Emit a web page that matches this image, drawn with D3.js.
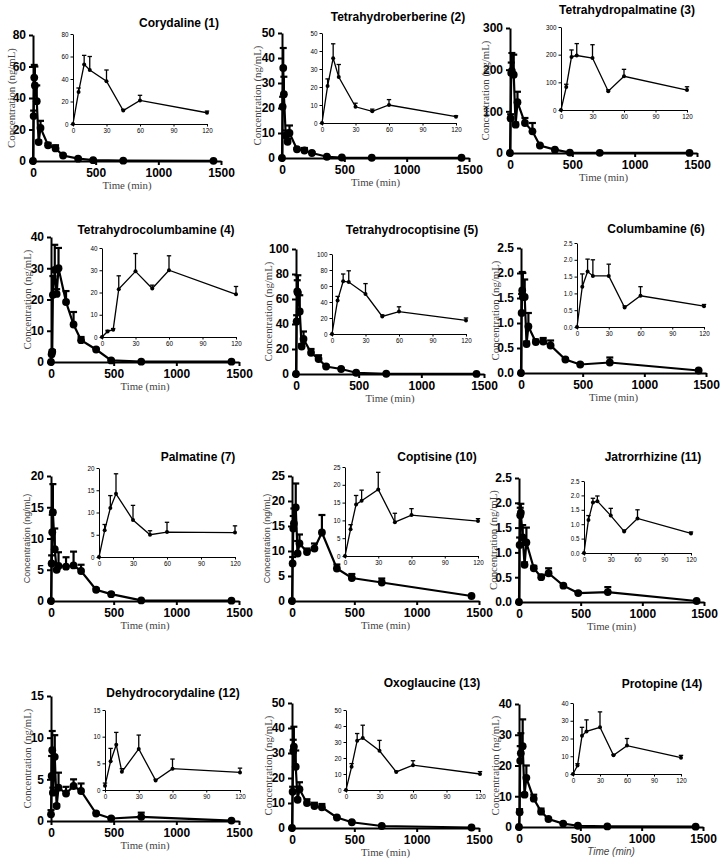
<!DOCTYPE html>
<html>
<head>
<meta charset="utf-8">
<script src="https://cdn.jsdelivr.net/npm/d3@7"></script>
<style>
  body { margin: 0; background: #fff; }
</style>
</head>
<body>
<svg id="chart" width="720" height="862"></svg>
<script>
// sampling times (min); inset shows the first 8 (0-120 min)
const times = [0, 5, 10, 15, 30, 45, 60, 120, 180, 240, 360, 480, 720, 1440];
const xTicks = [0, 500, 1000, 1500];
const insetXTicks = [0, 30, 60, 90, 120];

const corydalineMean = [0, 28.5, 53, 48, 38, 12, 21, 10, 8, 3.5, 1.5, 0.5, 0.2, 0.1];
const corydalineSD   = [0, 3.5, 8, 12, 10, 1, 4.5, 1.5, 2, 0.5, 0.5, 0.3, 0.1, 0.1];

const thBerberineMean = [0, 20.5, 36, 25.5, 9, 6.5, 10, 3.5, 3, 2, 0.5, 0.2, 0.1, 0.1];
const thBerberineSD   = [0, 4, 8, 7, 2, 1.2, 3, 0.5, 1, 0.3, 0.2, 0.1, 0, 0];

const thPalmatineMean = [0, 83, 192, 197, 188, 68, 122, 72, 52, 18, 8, 1, 0.5, 0.3];
const thPalmatineSD   = [0, 10, 25, 43, 48, 5, 25, 12, 20, 2, 1, 0.5, 0.2, 0.1];

const thColumbamineMean = [0, 2.5, 3.3, 21.5, 29.5, 21.8, 30, 19.2, 12, 7, 4, 0.5, 0.1, 0.1];
const thColumbamineSD   = [0, 0.5, 0.5, 6, 8, 1.5, 6.5, 3.5, 4, 1, 0.3, 0.2, 0, 0];

const thCoptisineMean = [0, 42, 66, 65, 50, 22, 28, 17, 12, 6, 4, 1, 0.2, 0.1];
const thCoptisineSD   = [0, 5, 9, 14, 13, 2, 6, 3, 3, 0.8, 0.5, 0.3, 0.1, 0];

const columbamineMean = [0, 1.2, 1.65, 1.52, 1.52, 0.58, 0.93, 0.62, 0.63, 0.55, 0.27, 0.17, 0.21, 0.05];
const columbamineSD   = [0, 0.38, 0.37, 0.48, 0.35, 0.05, 0.27, 0.05, 0.07, 0.1, 0.02, 0.02, 0.1, 0.01];

const palmatineMean = [0, 6, 11, 14.2, 8.3, 5, 5.6, 5.5, 5.7, 4.8, 1.8, 1.1, 0.1, 0.05];
const palmatineSD   = [0, 1.3, 2.8, 4.5, 3.3, 0.9, 2.2, 1.5, 2.2, 1, 0.2, 0.2, 0.05, 0];

const coptisineMean = [0, 7.5, 14.5, 15.5, 18.7, 9.5, 11.5, 9.8, 10.5, 13.7, 6.5, 4.6, 3.7, 1.0];
const coptisineSD   = [0, 1.3, 2.5, 3, 4.8, 2.5, 1.8, 0.7, 1, 3.5, 0.8, 0.8, 0.8, 0.1];

const jatrorrhizineMean = [0, 1.15, 1.75, 1.8, 1.3, 0.75, 1.2, 0.68, 0.5, 0.58, 0.33, 0.18, 0.2, 0.02];
const jatrorrhizineSD   = [0, 0.15, 0.15, 0.18, 0.25, 0.05, 0.3, 0.05, 0.05, 0.1, 0.02, 0.02, 0.1, 0];

const dhCorydalineMean = [0.8, 5.4, 8.5, 3.4, 7.7, 1.8, 4, 3.3, 4.2, 3.6, 0.9, 0.3, 0.5, 0.05];
const dhCorydalineSD   = [0.5, 2.4, 2.3, 0.6, 2.6, 0.2, 1.8, 0.8, 0.8, 0.9, 0.1, 0.1, 0.5, 0];

const oxoglaucineMean = [0, 14.5, 30.8, 32.5, 24.5, 11.3, 15.5, 10, 8.8, 8.3, 4.2, 2.3, 0.8, 0.2];
const oxoglaucineSD   = [0, 2, 4.5, 8, 6.5, 0.5, 2.8, 1.5, 1.3, 1.3, 0.3, 0.3, 0.1, 0];

const protopineMean = [0, 4.8, 21.5, 24, 26.3, 10.5, 16, 9.2, 5, 2.6, 1.1, 0.4, 0.2, 0.1];
const protopineSD   = [0, 1, 4.8, 6.5, 8.7, 0.5, 4, 1.3, 1, 0.3, 0.2, 0.1, 0, 0];

// panel layout (pixel boxes: [left, right, top, bottom]) kept apart from the data
const panels = [
  { title: 'Corydaline (1)', mean: corydalineMean, sd: corydalineSD, yMax: 80, yStep: 20,
    main: [33, 221, 35, 161], inset: [73, 207, 34, 124], tx: 179, ty: 27, ly: 11, tl: 189 },
  { title: 'Tetrahydroberberine (2)', mean: thBerberineMean, sd: thBerberineSD, yMax: 50, yStep: 10,
    main: [282, 469, 33, 158], inset: [322, 456, 33, 123], tx: 398, ty: 21, ly: 257, tl: 186 },
  { title: 'Tetrahydropalmatine (3)', mean: thPalmatineMean, sd: thPalmatineSD, yMax: 300, yStep: 100,
    main: [510, 697, 28, 153], inset: [561, 687, 27, 110], tx: 627, ty: 14, ly: 485, tl: 181 },
  { title: 'Tetrahydrocolumbamine (4)', mean: thColumbamineMean, sd: thColumbamineSD, yMax: 40, yStep: 10,
    main: [51, 239, 237, 362], inset: [102, 236, 248, 337], tx: 156, ty: 234, ly: 27, tl: 390 },
  { title: 'Tetrahydrocoptisine (5)', mean: thCoptisineMean, sd: thCoptisineSD, yMax: 100, yStep: 20,
    main: [296, 484, 249, 374], inset: [332, 466, 254, 334], tx: 412, ty: 234, ly: 268, tl: 402 },
  { title: 'Columbamine (6)', mean: columbamineMean, sd: columbamineSD, yMax: 2.5, yStep: 0.5, dec: true,
    main: [521, 706, 248, 373], inset: [577, 704, 243, 327], tx: 656, ty: 233, ly: 495, tl: 401 },
  { title: 'Palmatine (7)', mean: palmatineMean, sd: palmatineSD, yMax: 20, yStep: 5, sansLabel: true,
    main: [51, 239, 476, 601], inset: [99, 235, 468, 557], tx: 198, ty: 461, ly: 27, tl: 629 },
  { title: 'Coptisine (10)', mean: coptisineMean, sd: coptisineSD, yMax: 25, yStep: 5, sansLabel: true,
    main: [292, 479, 476, 601], inset: [345, 478, 467, 556], tx: 437, ty: 461, ly: 267, tl: 629 },
  { title: 'Jatrorrhizine (11)', mean: jatrorrhizineMean, sd: jatrorrhizineSD, yMax: 2.5, yStep: 0.5, dec: true,
    main: [519, 704, 478, 602], inset: [584, 691, 481, 553], tx: 653, ty: 461, ly: 493, tl: 630 },
  { title: 'Dehydrocorydaline (12)', mean: dhCorydalineMean, sd: dhCorydalineSD, yMax: 15, yStep: 5,
    main: [51, 239, 696, 821], inset: [105, 240, 710, 790], tx: 173, ty: 697, ly: 27, tl: 849 },
  { title: 'Oxoglaucine (13)', mean: oxoglaucineMean, sd: oxoglaucineSD, yMax: 50, yStep: 10,
    main: [292, 479, 703, 828], inset: [346, 480, 710, 790], tx: 432, ty: 687, ly: 268, tl: 856 },
  { title: 'Protopine (14)', mean: protopineMean, sd: protopineSD, yMax: 40, yStep: 10, italicTime: true,
    main: [519, 703, 704, 827], inset: [573, 681, 703, 774], tx: 662, ty: 688, ly: 495, tl: 855 }
];

const svg = d3.select('#chart');
const sans = 'Liberation Sans, Arial, sans-serif';
const serif = 'Liberation Serif, Times New Roman, serif';

function plot(g, box, n, xMax, xt, p, s) {
  const x = d3.scaleLinear().domain([0, xMax]).range([box[0], box[1]]);
  const y = d3.scaleLinear().domain([0, p.yMax]).range([box[3], box[2]]);
  const yt = d3.range(0, p.yMax + p.yStep / 2, p.yStep);
  const fmt = p.dec ? d3.format('.1f') : d3.format('d');

  const xa = g.append('g')
    .attr('transform', `translate(0,${box[3]})`)
    .call(d3.axisBottom(x).tickValues(xt).tickFormat(d3.format('d'))
      .tickSize(s.tick).tickSizeOuter(0).tickPadding(s.pad));
  const ya = g.append('g')
    .attr('transform', `translate(${box[0]},0)`)
    .call(d3.axisLeft(y).tickValues(yt).tickFormat(fmt)
      .tickSize(s.tick).tickSizeOuter(0).tickPadding(s.pad));
  [xa, ya].forEach(a => {
    a.select('.domain').attr('stroke', '#000').attr('stroke-width', s.axis);
    a.selectAll('.tick line').attr('stroke', '#000').attr('stroke-width', s.axis);
    a.selectAll('.tick text')
      .attr('fill', '#000')
      .style('font-family', sans)
      .style('font-size', s.font + 'px')
      .style('font-weight', s.bold ? 'bold' : 'normal');
  });

  const pts = d3.range(n).map(i => ({ t: times[i], m: p.mean[i], e: p.sd[i] }));

  g.append('path')
    .datum(pts)
    .attr('fill', 'none')
    .attr('stroke', '#000')
    .attr('stroke-width', s.line)
    .attr('d', d3.line().x(d => x(d.t)).y(d => y(d.m)));

  const eb = g.selectAll(null).data(pts.filter(d => d.e > 0)).enter().append('g')
    .attr('stroke', '#000').attr('stroke-width', s.line);
  eb.append('line')
    .attr('x1', d => x(d.t)).attr('x2', d => x(d.t))
    .attr('y1', d => y(d.m)).attr('y2', d => y(d.m + d.e));
  eb.append('line')
    .attr('x1', d => x(d.t) - s.cap).attr('x2', d => x(d.t) + s.cap)
    .attr('y1', d => y(d.m + d.e)).attr('y2', d => y(d.m + d.e));

  g.selectAll(null).data(pts).enter().append('circle')
    .attr('cx', d => x(d.t))
    .attr('cy', d => y(d.m))
    .attr('r', s.r)
    .attr('fill', '#000');
}

const mainStyle = { tick: 4, pad: 3, axis: 2, font: 12, bold: true, line: 2.2, cap: 3.5, r: 3.9 };
const insetStyle = { tick: 2.5, pad: 2, axis: 1, font: 6.3, bold: false, line: 1.3, cap: 2.2, r: 2 };

panels.forEach(p => {
  const g = svg.append('g');
  plot(g, p.main, times.length, 1500, xTicks, p, mainStyle);
  plot(g, p.inset, 8, 120, insetXTicks, p, insetStyle);

  g.append('text')
    .attr('x', p.tx).attr('y', p.ty)
    .attr('text-anchor', 'middle')
    .style('font-family', sans).style('font-size', '12px').style('font-weight', 'bold')
    .text(p.title);

  const cy = (p.main[2] + p.main[3]) / 2;
  g.append('text')
    .attr('transform', `translate(${p.ly},${cy}) rotate(-90)`)
    .attr('text-anchor', 'middle')
    .attr('dominant-baseline', 'central')
    .attr('fill', '#444')
    .style('font-family', p.sansLabel ? sans : serif)
    .style('font-size', p.sansLabel ? '9px' : '10.8px')
    .text('Concentration (ng/mL)');

  g.append('text')
    .attr('x', (p.main[0] + p.main[1]) / 2).attr('y', p.tl)
    .attr('text-anchor', 'middle')
    .attr('fill', '#444')
    .style('font-family', p.italicTime ? sans : serif)
    .style('font-style', p.italicTime ? 'italic' : 'normal')
    .style('font-size', p.italicTime ? '10px' : '10.8px')
    .text('Time (min)');
});
</script>
</body>
</html>
